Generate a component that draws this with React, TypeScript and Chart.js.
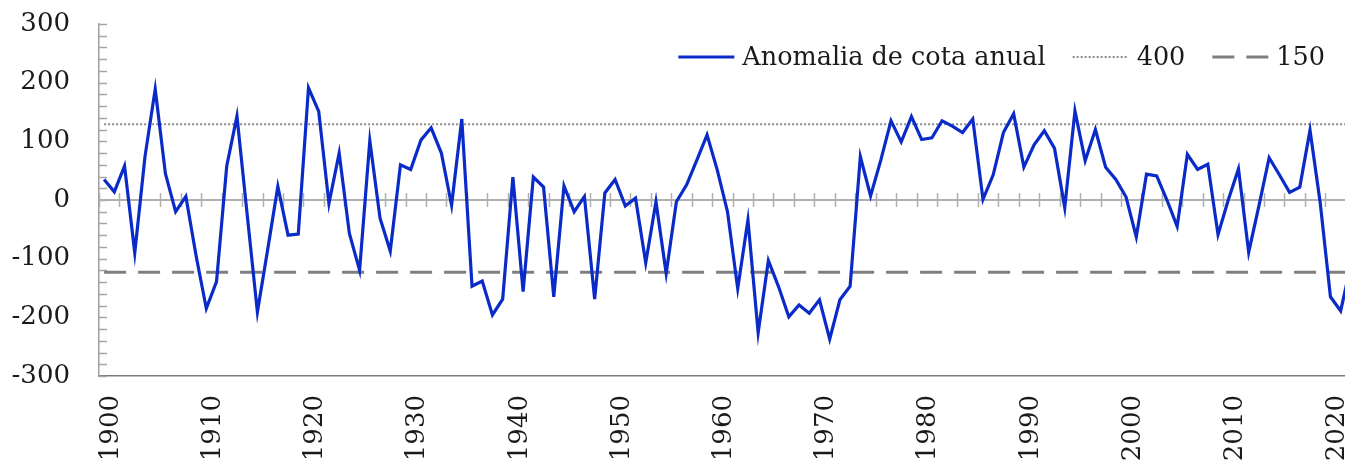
import React, { useEffect, useRef } from "react";
import { Chart, registerables } from "chart.js";

Chart.register(...registerables);

// ---------- data ----------
const years: number[] = [
  1900, 1901, 1902, 1903, 1904, 1905, 1906, 1907, 1908, 1909,
  1910, 1911, 1912, 1913, 1914, 1915, 1916, 1917, 1918, 1919,
  1920, 1921, 1922, 1923, 1924, 1925, 1926, 1927, 1928, 1929,
  1930, 1931, 1932, 1933, 1934, 1935, 1936, 1937, 1938, 1939,
  1940, 1941, 1942, 1943, 1944, 1945, 1946, 1947, 1948, 1949,
  1950, 1951, 1952, 1953, 1954, 1955, 1956, 1957, 1958, 1959,
  1960, 1961, 1962, 1963, 1964, 1965, 1966, 1967, 1968, 1969,
  1970, 1971, 1972, 1973, 1974, 1975, 1976, 1977, 1978, 1979,
  1980, 1981, 1982, 1983, 1984, 1985, 1986, 1987, 1988, 1989,
  1990, 1991, 1992, 1993, 1994, 1995, 1996, 1997, 1998, 1999,
  2000, 2001, 2002, 2003, 2004, 2005, 2006, 2007, 2008, 2009,
  2010, 2011, 2012, 2013, 2014, 2015, 2016, 2017, 2018, 2019,
  2020, 2021, 2022,
];

const anomaly: number[] = [
  35, 14, 58, -90, 74, 189, 45, -20, 6, -95,
  -185, -139, 58, 143, -25, -191, -85, 23, -60, -58,
  191, 151, -6, 80, -57, -120, 101, -31, -87, 60,
  52, 102, 123, 80, -9, 138, -147, -138, -196, -169,
  39, -156, 39, 22, -165, 24, -20, 6, -169, 12,
  35, -10, 3, -107, -3, -125, -3, 26, 68, 111,
  51, -20, -151, -34, -226, -103, -148, -199, -179, -193,
  -170, -237, -170, -147, 74, 7, 68, 135, 99, 142,
  103, 106, 135, 126, 115, 138, 1, 43, 115, 147,
  56, 94, 118, 88, -13, 152, 67, 120, 56, 35,
  5, -63, 44, 41, 0, -45, 78, 52, 61, -59,
  0, 53, -89, -10, 72, 43, 13, 22, 119, -5,
  -165, -189, -110,
];

const level400Value = 129; // dotted reference level ("400")
const level150Value = -123; // dashed reference level ("150")
const level400: number[] = years.map(() => level400Value);
const level150: number[] = years.map(() => level150Value);

const yTickValues: number[] = [-300, -200, -100, 0, 100, 200, 300];
const seriesLabels: string[] = ["Anomalia de cota anual", "400", "150"];

const FONT = "'DejaVu Serif', serif";
const TEXT = "#1a1a1a";

const decorPlugin = {
  id: "decor",
  beforeDatasetsDraw(chart: any) {
    const { ctx, chartArea, scales } = chart;
    const x = scales.x;
    const y = scales.y;
    ctx.save();
    // minor ticks on y axis (inside the plot)
    ctx.strokeStyle = "#a6a6a6";
    ctx.lineWidth = 1.5;
    ctx.beginPath();
    for (let v = yTickValues[0]; v <= yTickValues[yTickValues.length - 1]; v += 20) {
      const py = Math.round(y.getPixelForValue(v)) + 0.5;
      ctx.moveTo(chartArea.left, py);
      ctx.lineTo(chartArea.left + 8, py);
    }
    ctx.stroke();
    // zero line
    const y0 = Math.round(y.getPixelForValue(0));
    ctx.strokeStyle = "#b0b0b0";
    ctx.lineWidth = 2;
    ctx.beginPath();
    ctx.moveTo(chartArea.left, y0);
    ctx.lineTo(chartArea.right, y0);
    ctx.stroke();
    // tick marks every 2 categories on the zero line
    const step = x.getPixelForValue(1) - x.getPixelForValue(0);
    const start = x.getPixelForValue(0) - step / 2;
    ctx.lineWidth = 1.5;
    ctx.beginPath();
    for (let i = 0; i <= years.length; i += 2) {
      const px = Math.round(start + i * step) + 0.5;
      ctx.moveTo(px, y0 - 7);
      ctx.lineTo(px, y0 + 7);
    }
    ctx.stroke();
    ctx.restore();
  },
  afterDraw(chart: any) {
    const { ctx } = chart;
    const ds = chart.data.datasets;
    ctx.save();
    ctx.font = `25.5px ${FONT}`;
    ctx.textBaseline = "middle";
    ctx.fillStyle = TEXT;
    const cy = 57;
    let right = 1325;
    const sampleW = 56;
    const gap = 8;
    const itemGap = 27;
    for (let i = ds.length - 1; i >= 0; i--) {
      const d = ds[i];
      const w = ctx.measureText(d.label).width;
      const tx = right - w;
      ctx.fillText(d.label, tx, cy + 1);
      const sx = tx - gap - sampleW;
      ctx.beginPath();
      ctx.strokeStyle = d.borderColor;
      ctx.lineWidth = d.borderWidth;
      ctx.setLineDash(d.borderDash || []);
      ctx.moveTo(sx, cy);
      ctx.lineTo(sx + sampleW, cy);
      ctx.stroke();
      ctx.setLineDash([]);
      right = sx - itemGap;
    }
    ctx.restore();
  },
};

export default function App() {
  const ref = useRef<HTMLCanvasElement | null>(null);

  useEffect(() => {
    if (!ref.current) return;
    const chart = new Chart(ref.current, {
      type: "line",
      data: {
        labels: years.map(String),
        datasets: [
          {
            label: seriesLabels[0],
            data: anomaly,
            borderColor: "#0a2bc8",
            borderWidth: 3.2,
            pointRadius: 0,
            tension: 0,
          },
          {
            label: seriesLabels[1],
            data: level400,
            borderColor: "#8c8c8c",
            borderWidth: 2,
            borderDash: [2, 2],
            pointRadius: 0,
          },
          {
            label: seriesLabels[2],
            data: level150,
            borderColor: "#7f7f7f",
            borderWidth: 3,
            borderDash: [22, 12],
            pointRadius: 0,
          },
        ],
      },
      options: {
        animation: false,
        responsive: false,
        devicePixelRatio: 1,
        layout: { padding: { left: 7, top: 24, right: 4, bottom: 0 } },
        plugins: {
          legend: { display: false },
          tooltip: { enabled: false },
        },
        scales: {
          x: {
            type: "category",
            offset: true,
            grid: { display: false, drawTicks: true, tickLength: 19 },
            border: { display: true, color: "#7a7a7a", width: 1.5 },
            afterFit: (scale: any) => {
              scale.height = 84;
              scale.paddingLeft = 0;
              scale.paddingRight = 0;
            },
            ticks: {
              autoSkip: false,
              minRotation: 90,
              maxRotation: 90,
              padding: 0,
              labelOffset: 7,
              color: TEXT,
              font: { family: FONT, size: 26 },
              callback: (_v: any, idx: number) =>
                years[idx] % 10 === 0 ? String(years[idx]) : "",
            },
          },
          y: {
            min: -300,
            max: 300,
            grid: { display: false, drawTicks: true, tickLength: 29 },
            border: { display: true, color: "#a0a0a0", width: 1.5 },
            afterBuildTicks: (scale: any) => {
              scale.ticks = yTickValues.map((v) => ({ value: v }));
            },
            afterFit: (scale: any) => {
              scale.width = 92;
            },
            ticks: {
              padding: 0,
              color: TEXT,
              font: { family: FONT, size: 26 },
            },
          },
        },
      },
      plugins: [decorPlugin],
    });
    return () => chart.destroy();
  }, []);

  return (
    <div
      style={{
        position: "absolute",
        left: 0,
        top: 0,
        width: 1345,
        height: 460,
        overflow: "hidden",
        background: "#fff",
      }}
    >
      <canvas ref={ref} width={1360} height={460} style={{ display: "block" }} />
    </div>
  );
}
